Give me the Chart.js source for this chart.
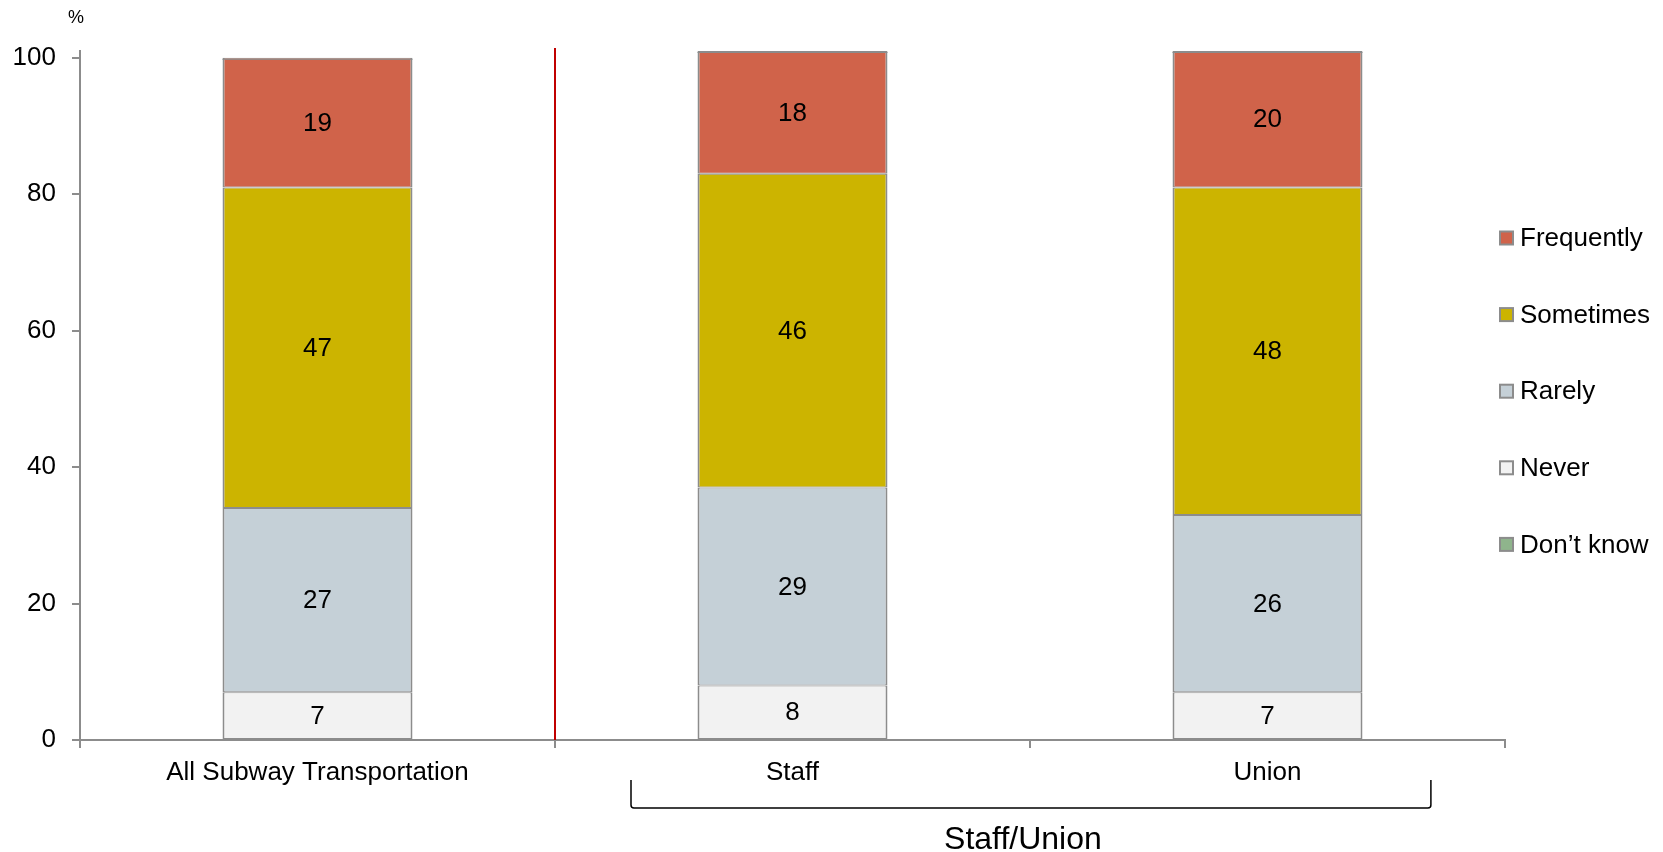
<!DOCTYPE html>
<html>
<head>
<meta charset="utf-8">
<script src="https://cdn.jsdelivr.net/npm/chart.js@4/dist/chart.umd.min.js"></script>
<style>
  html, body { margin: 0; padding: 0; background: #fff; }
  #wrap { width: 1663px; height: 852px; position: relative; }
</style>
</head>
<body>
<div id="wrap"><canvas id="chart"></canvas></div>
<script>
// categories and series (percent), stacked bottom to top
const categories = ["All Subway Transportation", "Staff", "Union"];
const never = [7, 8, 7];
const rarely = [27, 29, 26];
const sometimes = [47, 46, 48];
const frequently = [19, 18, 20];
const dontKnow = [0, 0, 0];
const yTicks = [0, 20, 40, 60, 80, 100];
const groupLabel = "Staff/Union";

const FONT = '"Liberation Sans", Arial, sans-serif';
const BORDER = "#8c8c8c";

// thin top/bottom borders so neighbouring segments share one 2px line
const seg = (label, data, color) => ({
  label, data, backgroundColor: color, borderColor: BORDER,
  borderWidth: { top: 1, bottom: 1, left: 2, right: 2 },
  borderSkipped: false, stack: "s"
});

const datasets = [
  seg("Never", never, "#f2f2f2"),
  seg("Rarely", rarely, "#c5d0d7"),
  seg("Sometimes", sometimes, "#ccb400"),
  seg("Frequently", frequently, "#d0634a"),
  seg("Don\u2019t know", dontKnow, "#8fb48c")
];

// value labels in the middle of each segment
const segmentLabels = {
  id: "segmentLabels",
  afterDatasetsDraw(chart) {
    const { ctx } = chart;
    ctx.save();
    ctx.font = `26px ${FONT}`;
    ctx.fillStyle = "#000";
    ctx.textAlign = "center";
    ctx.textBaseline = "middle";
    chart.data.datasets.forEach((ds, i) => {
      chart.getDatasetMeta(i).data.forEach((el, j) => {
        const v = ds.data[j];
        if (!v) return;
        ctx.fillText(String(v), el.x, (el.y + el.base) / 2 + 1);
      });
    });
    ctx.restore();
  }
};

// red divider, group bracket, "%" unit and the right-hand legend
const decorations = {
  id: "decorations",
  afterDraw(chart) {
    const { ctx, chartArea } = chart;
    const x = chart.scales.x;
    const step = x.getPixelForValue(1) - x.getPixelForValue(0);
    ctx.save();

    // outer line along the top of each stack
    const topMeta = chart.getDatasetMeta(3);
    ctx.strokeStyle = BORDER;
    ctx.lineWidth = 1;
    topMeta.data.forEach(el => {
      ctx.beginPath();
      ctx.moveTo(el.x - el.width / 2, el.y + 1.5);
      ctx.lineTo(el.x + el.width / 2, el.y + 1.5);
      ctx.stroke();
    });

    // divider between the total and the breakdown
    const divX = (x.getPixelForValue(0) + x.getPixelForValue(1)) / 2;
    ctx.strokeStyle = "#c00000";
    ctx.lineWidth = 2;
    ctx.beginPath();
    ctx.moveTo(divX, chartArea.top - 3);
    ctx.lineTo(divX, chartArea.bottom);
    ctx.stroke();

    // bracket under Staff / Union
    const bl = x.getPixelForValue(1) - step * 0.34;
    const br = x.getPixelForValue(2) + step * 0.344;
    const bTop = 780, bBot = 808, r = 3;
    ctx.strokeStyle = "#000";
    ctx.lineWidth = 1.5;
    ctx.beginPath();
    ctx.moveTo(bl, bTop);
    ctx.lineTo(bl, bBot - r);
    ctx.quadraticCurveTo(bl, bBot, bl + r, bBot);
    ctx.lineTo(br - r, bBot);
    ctx.quadraticCurveTo(br, bBot, br, bBot - r);
    ctx.lineTo(br, bTop);
    ctx.stroke();

    ctx.fillStyle = "#000";
    ctx.textAlign = "center";
    ctx.textBaseline = "middle";
    ctx.font = `32px ${FONT}`;
    ctx.fillText(groupLabel, (bl + br) / 2 - 8, 840);

    ctx.font = `18px ${FONT}`;
    ctx.fillText("%", 76, 18);

    // legend, top series first
    ctx.font = `26px ${FONT}`;
    ctx.textAlign = "left";
    const order = [3, 2, 1, 0, 4];
    order.forEach((di, k) => {
      const ds = chart.data.datasets[di];
      const cy = 238 + k * 76.6;
      ctx.fillStyle = ds.backgroundColor;
      ctx.fillRect(1500, cy - 6.5, 13, 13);
      ctx.strokeStyle = BORDER;
      ctx.lineWidth = 2;
      ctx.strokeRect(1500, cy - 6.5, 13, 13);
      ctx.fillStyle = "#000";
      ctx.fillText(ds.label, 1520, cy + 1);
    });
    ctx.restore();
  }
};

new Chart(document.getElementById("chart"), {
  type: "bar",
  data: { labels: categories, datasets },
  options: {
    responsive: true,
    maintainAspectRatio: false,
    animation: false,
    layout: { padding: { left: 0, top: 51, right: 158, bottom: 0 } },
    datasets: { bar: { categoryPercentage: 1, barPercentage: 0.4 } },
    plugins: { legend: { display: false }, tooltip: { enabled: false } },
    scales: {
      x: {
        stacked: true,
        offset: true,
        border: { color: BORDER, width: 2 },
        grid: { offset: true, drawOnChartArea: false, drawTicks: true, tickLength: 8, color: BORDER, lineWidth: 2 },
        ticks: { color: "#000", font: { family: FONT, size: 26 }, padding: 9, maxRotation: 0 },
        afterFit(s) { s.height = 112; }
      },
      y: {
        stacked: true,
        min: 0,
        max: 101,
        border: { color: BORDER, width: 2 },
        grid: { drawOnChartArea: false, drawTicks: true, tickLength: 8, color: BORDER, lineWidth: 2 },
        afterBuildTicks(s) { s.ticks = yTicks.map(v => ({ value: v })); },
        ticks: { color: "#000", font: { family: FONT, size: 26 }, padding: 16 },
        afterFit(s) { s.width = 80; }
      }
    }
  },
  plugins: [segmentLabels, decorations]
});
</script>
</body>
</html>
